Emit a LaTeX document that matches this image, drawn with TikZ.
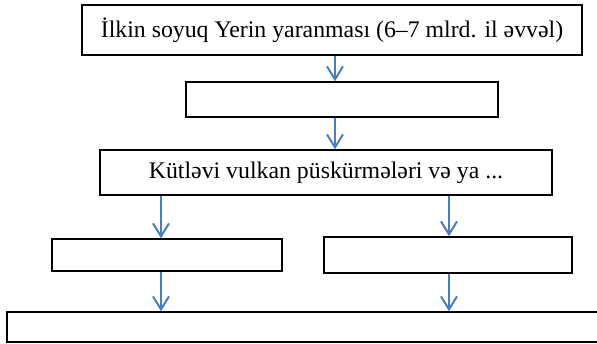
\documentclass[tikz,border=0pt]{standalone}
\usepackage{fontspec}
\setmainfont{Liberation Serif}
\usetikzlibrary{arrows.meta}
\definecolor{arrblue}{RGB}{74,126,187}
\tikzset{
  box/.style={draw=black, line width=1.4pt, fill=white, inner sep=0pt, font=\fontsize{23.8}{27}\selectfont},
  arr/.style={draw=arrblue, line width=2.2pt, -{Straight Barb[length=13pt,width=16pt,line width=2pt]}}
}
\begin{document}
\begin{tikzpicture}[x=1pt,y=-1pt]
\useasboundingbox (0,0) rectangle (597,344);
\node[box, minimum width=500pt, minimum height=50pt] (b1) at (332,30) {İlkin soyuq Yerin yaranması (6–7 mlrd. il əvvəl)};
\node[box, minimum width=312pt, minimum height=35pt] (b2) at (342,99.5) {};
\node[box, minimum width=452pt, minimum height=45pt] (b3) at (326,172.5) {Kütləvi vulkan püskürmələri və ya ...};
\node[box, minimum width=230pt, minimum height=32pt] (b4) at (167,255) {};
\node[box, minimum width=248pt, minimum height=36pt] (b5) at (448,255) {};
\node[box, minimum width=593pt, minimum height=30pt] (b6) at (303.5,327) {};
\draw[arr] (335,0 |- b1.south) -- (335,0 |- b2.north);
\draw[arr] (335,0 |- b2.south) -- (335,0 |- b3.north);
\draw[arr] (161,0 |- b3.south) -- (161,0 |- b4.north);
\draw[arr] (449,0 |- b3.south) -- (449,0 |- b5.north);
\draw[arr] (161,0 |- b4.south) -- (161,0 |- b6.north);
\draw[arr] (449,0 |- b5.south) -- (449,0 |- b6.north);
\end{tikzpicture}
\end{document}
